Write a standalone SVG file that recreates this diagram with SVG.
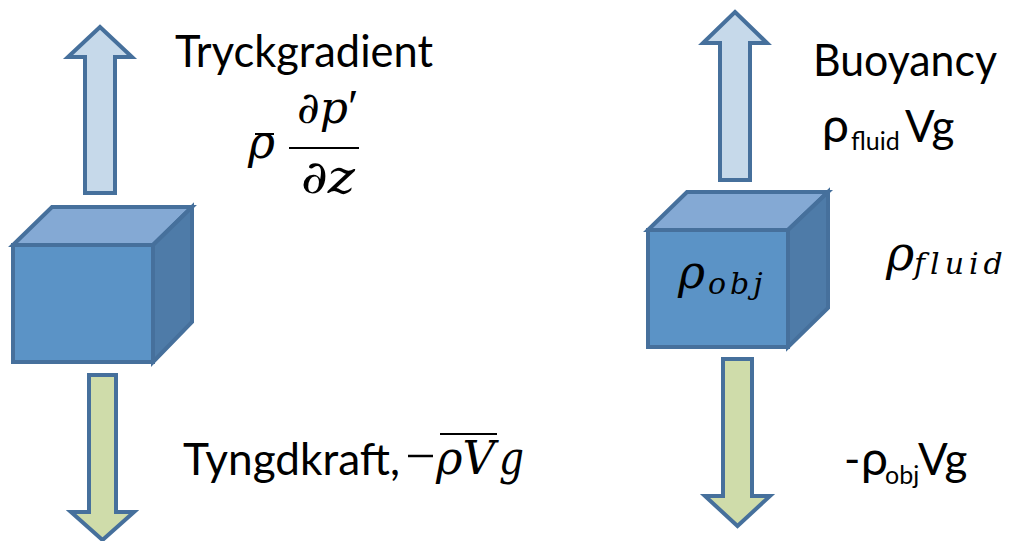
<svg xmlns="http://www.w3.org/2000/svg" width="1010" height="541" viewBox="0 0 1010 541">
  <style>
    .shape { stroke: #46709c; stroke-width: 4; stroke-linejoin: miter; }
    .up { fill: #c6d9ea; }
    .down { fill: #cfdcaa; }
    .front { fill: #5b93c6; }
    .top { fill: #84a9d4; }
    .side { fill: #4e7ba8; }
    .lbl { font-family: Lato, "Open Sans", "Liberation Sans", sans-serif; fill: #000; }
    .math { font-family: "DejaVu Serif", "Liberation Serif", serif; font-style: italic; fill: #000; }
    .rule { stroke: #000; stroke-width: 2; }
    .prime { font-family: "Liberation Serif", serif; font-style: normal; }
  </style>

  <!-- Left block: pressure gradient vs gravity -->
  <g id="left-up-arrow">
    <path class="shape up" d="M100,27 L132,57 L115,57 L115,193 L85,193 L85,57 L68,57 Z"/>
  </g>
  <g id="left-cube">
    <path class="shape top" d="M13,245 L52,207 L192,207 L153,245 Z"/>
    <path class="shape side" d="M153,245 L192,207 L192,322 L153,362 Z"/>
    <rect class="shape front" x="13" y="245" width="140" height="117"/>
  </g>
  <g id="left-down-arrow">
    <path class="shape down" d="M89,375 L116,375 L116,512 L134,512 L102.5,540 L71,512 L89,512 Z"/>
  </g>

  <g id="left-labels">
    <text class="lbl" x="175" y="67" font-size="44" textLength="258" lengthAdjust="spacingAndGlyphs">Tryckgradient</text>
    <!-- rho-bar times dp'/dz -->
    <text class="math" x="248" y="158" font-size="46" textLength="27" lengthAdjust="spacingAndGlyphs">ρ</text>
    <line class="rule" x1="255" y1="134" x2="274" y2="134"/>
    <text class="math" x="297" y="123" font-size="44">∂p<tspan class="prime" font-size="48">′</tspan></text>
    <line class="rule" x1="289" y1="148" x2="359" y2="148"/>
    <text class="math" x="301" y="193" font-size="46" textLength="54" lengthAdjust="spacingAndGlyphs">∂z</text>

    <text class="lbl" x="183" y="475" font-size="44" textLength="217" lengthAdjust="spacingAndGlyphs">Tyngdkraft,</text>
    <line x1="408" y1="456" x2="433" y2="456" stroke="#000" stroke-width="2.5"/>
    <text class="math" x="436" y="474" font-size="46" textLength="59" lengthAdjust="spacingAndGlyphs">ρV</text>
    <line class="rule" x1="440" y1="434" x2="497" y2="434"/>
    <text class="math" x="499" y="474" font-size="46" textLength="25" lengthAdjust="spacingAndGlyphs">g</text>
  </g>

  <!-- Right block: buoyancy vs weight -->
  <g id="right-up-arrow">
    <path class="shape up" d="M735,12 L767,43 L750,43 L750,180 L720,180 L720,43 L703,43 Z"/>
  </g>
  <g id="right-cube">
    <path class="shape top" d="M648,230 L687,192 L828,192 L788,230 Z"/>
    <path class="shape side" d="M788,230 L828,192 L828,308 L788,347 Z"/>
    <rect class="shape front" x="648" y="230" width="140" height="117"/>
    <text class="math" y="288" font-size="46"><tspan x="678">ρ</tspan><tspan x="708" y="294" font-size="30" letter-spacing="4">obj</tspan></text>
  </g>
  <g id="right-down-arrow">
    <path class="shape down" d="M723,359 L752,359 L752,496 L770,496 L737.5,526 L705,496 L723,496 Z"/>
  </g>

  <g id="right-labels">
    <text class="lbl" x="813" y="76" font-size="44" textLength="184" lengthAdjust="spacingAndGlyphs">Buoyancy</text>
    <text class="lbl" y="142" font-size="44"><tspan x="822" font-size="48">ρ</tspan><tspan x="851" y="150" font-size="25">fluid</tspan><tspan x="905" y="142">Vg</tspan></text>

    <text class="math" y="270" font-size="48"><tspan x="886">ρ</tspan><tspan x="914" y="274" font-size="30" letter-spacing="5">fluid</tspan></text>

    <text class="lbl" y="475" font-size="44"><tspan x="844">-</tspan><tspan x="861" font-size="48">ρ</tspan><tspan x="885" y="484" font-size="25">obj</tspan><tspan x="918" y="475">Vg</tspan></text>
  </g>
</svg>
